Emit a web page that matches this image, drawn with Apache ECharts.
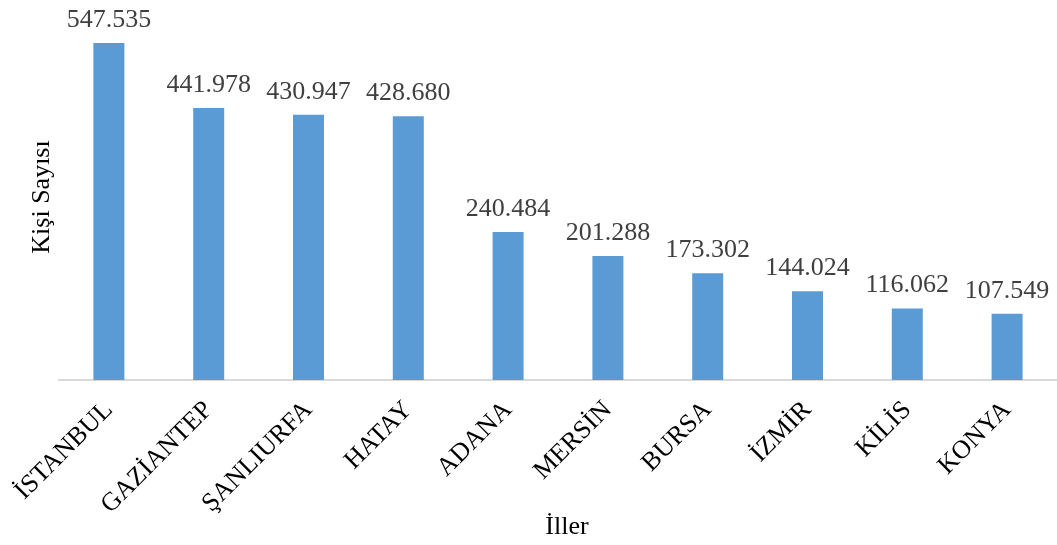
<!DOCTYPE html>
<html><head><meta charset="utf-8">
<script src="https://cdn.jsdelivr.net/npm/echarts@6/dist/echarts.min.js"></script>
<style>html,body{margin:0;padding:0;background:#fff}#c{width:1057px;height:545px}</style>
</head><body><div id="c"></div>
<script>
const categories = ['İSTANBUL','GAZİANTEP','ŞANLIURFA','HATAY','ADANA','MERSİN','BURSA','İZMİR','KİLİS','KONYA'];
const values = [547535, 441978, 430947, 428680, 240484, 201288, 173302, 144024, 116062, 107549];
const yTitle = 'Kişi Sayısı';
const xTitle = 'İller';
const font = '"Liberation Serif", "Times New Roman", serif';
function fmt(v){ return String(v).replace(/\B(?=(\d{3})+(?!\d))/g, '.'); }
const chart = echarts.init(document.getElementById('c'));
chart.setOption({
  animation: false,
  grid: {left: 59, top: 10.7, width: 1000, height: 369.3, containLabel: false},
  xAxis: {
    type: 'category', data: categories,
    axisLine: {lineStyle: {color: '#d9d9d9', width: 2}},
    axisTick: {show: false},
    axisLabel: {rotate: 45, fontFamily: font, fontSize: 26, color: '#000', margin: 26}
  },
  yAxis: {type: 'value', min: 0, max: 600000, show: false, splitLine: {show: false}},
  series: [{
    type: 'bar', data: values, barWidth: 31,
    itemStyle: {color: '#5b9bd5'},
    label: {show: true, position: 'top', distance: 10, fontFamily: font, fontSize: 26, color: '#404040',
      formatter: p => fmt(p.value)}
  }],
  graphic: [
    {type: 'text', x: 42, y: 197, rotation: Math.PI/2, style: {text: yTitle, font: '26px ' + font, fill: '#000', align: 'center', verticalAlign: 'middle'}},
    {type: 'text', x: 567, y: 527, style: {text: xTitle, font: '26px ' + font, fill: '#000', align: 'center', verticalAlign: 'middle'}}
  ]
});
</script></body></html>
